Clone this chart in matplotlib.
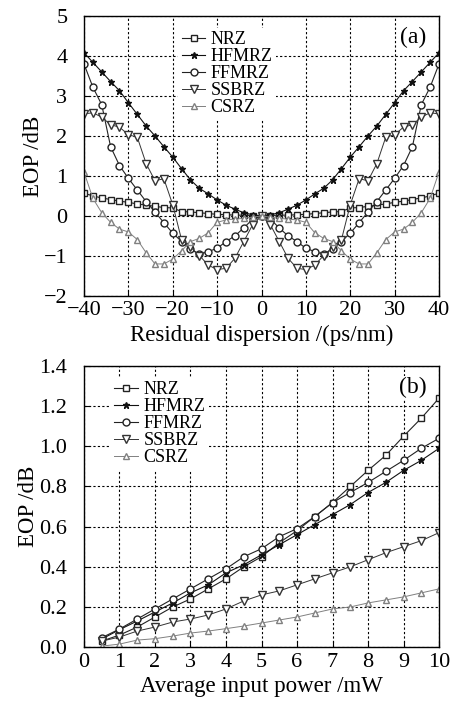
import matplotlib.pyplot as plt
import numpy as np

plt.rcParams['font.family'] = 'Liberation Serif'
plt.rcParams['axes.unicode_minus'] = True

# (a) EOP vs residual dispersion, values for 0..40 ps/nm (curves are symmetric)
disp_half = np.arange(0, 42, 2)
nrz_a = [0, 0.01, 0.02, 0.02, 0.03, 0.04, 0.06, 0.08, 0.10, 0.11, 0.20,
         0.21, 0.24, 0.27, 0.30, 0.34, 0.37, 0.41, 0.45, 0.50, 0.57]
hfmrz_a = [0, 0.03, 0.08, 0.17, 0.27, 0.40, 0.55, 0.69, 0.90, 1.18, 1.47,
           1.73, 2.00, 2.25, 2.54, 2.83, 3.13, 3.36, 3.60, 3.84, 4.08]
ffmrz_a = [0, -0.08, -0.30, -0.50, -0.64, -0.81, -0.89, -0.96, -0.83, -0.64, -0.43,
           -0.17, 0.10, 0.36, 0.65, 0.94, 1.26, 1.73, 2.78, 3.22, 3.80]
ssbrz_a = [0, -0.22, -0.64, -1.06, -1.31, -1.34, -1.23, -0.99, -0.78, -0.60, 0.28,
           0.93, 0.88, 1.31, 1.97, 2.03, 2.22, 2.28, 2.47, 2.58, 2.55]
csrz_a = [0, -0.03, -0.06, -0.08, -0.10, -0.16, -0.42, -0.56, -0.64, -0.87, -1.08,
          -1.20, -1.20, -0.92, -0.59, -0.40, -0.33, -0.16, 0.08, 0.44, 1.10]

# (b) EOP vs average input power
power = np.arange(0.5, 10.5, 0.5)
nrz_b = [0.03, 0.06, 0.10, 0.15, 0.20, 0.24, 0.29, 0.34, 0.40, 0.45,
         0.52, 0.58, 0.65, 0.72, 0.80, 0.88, 0.955, 1.05, 1.14, 1.24]
hfmrz_b = [0.04, 0.087, 0.13, 0.175, 0.22, 0.27, 0.31, 0.37, 0.41, 0.46,
           0.51, 0.56, 0.61, 0.66, 0.71, 0.77, 0.82, 0.88, 0.93, 0.99]
ffmrz_b = [0.047, 0.09, 0.14, 0.19, 0.24, 0.29, 0.34, 0.39, 0.45, 0.49,
           0.55, 0.59, 0.65, 0.72, 0.77, 0.82, 0.875, 0.93, 0.99, 1.04]
ssbrz_b = [0.03, 0.05, 0.08, 0.10, 0.125, 0.14, 0.16, 0.19, 0.23, 0.26,
           0.28, 0.31, 0.34, 0.37, 0.40, 0.435, 0.47, 0.50, 0.53, 0.57]
csrz_b = [0.005, 0.015, 0.035, 0.042, 0.055, 0.07, 0.08, 0.092, 0.105, 0.12,
          0.135, 0.15, 0.17, 0.19, 0.20, 0.22, 0.235, 0.25, 0.27, 0.29]

labels = ['NRZ', 'HFMRZ', 'FFMRZ', 'SSBRZ', 'CSRZ']


def mirror(vals):
    v = np.asarray(vals)
    return np.concatenate([v[:0:-1], v])


disp = np.concatenate([-disp_half[:0:-1], disp_half])

styles = [
    dict(marker='s', color='#222222', mfc='white', ms=5, lw=0.8),
    dict(marker='*', color='#111111', mfc='#111111', ms=5, lw=0.8),
    dict(marker='o', color='#222222', mfc='white', ms=5, lw=0.8),
    dict(marker='v', color='#333333', mfc='white', ms=5.5, lw=0.7),
    dict(marker='^', color='#808080', mfc='white', ms=5, lw=0.7),
]

fig = plt.figure(figsize=(4.54, 7.08), dpi=100)
ax1 = fig.add_axes([0.185, 0.582, 0.782, 0.3955])
ax2 = fig.add_axes([0.185, 0.086, 0.782, 0.397])


def style_axes(ax):
    ax.grid(True, color='black', linestyle=(0, (2, 2)), linewidth=0.8)
    ax.tick_params(direction='in', length=4, labelsize=16, width=0.8)
    ax.tick_params(axis='y', pad=12)
    ax.tick_params(axis='x', pad=4)
    for s in ax.spines.values():
        s.set_linewidth(1.0)


data_a = [nrz_a, hfmrz_a, ffmrz_a, ssbrz_a, csrz_a]
for vals, lab, st in zip(data_a, labels, styles):
    ax1.plot(disp, mirror(vals), label=lab, **st)
ax1.set_xlim(-40, 40)
ax1.set_ylim(-2, 5)
ax1.set_xticks(range(-40, 41, 10))
ax1.set_yticks(range(-2, 6))
style_axes(ax1)
ax1.set_xlabel('Residual dispersion /(ps/nm)', fontsize=16.5, labelpad=3)
ax1.set_ylabel('EOP /dB', fontsize=16.5, labelpad=0)
ax1.legend(loc='upper left', bbox_to_anchor=(0.24, 0.99), fontsize=13,
           frameon=True, edgecolor='none', fancybox=False, framealpha=1,
           handlelength=1.3, handletextpad=0.3, labelspacing=0.0,
           borderpad=0.2)
ax1.text(0.965, 0.96, '(a)', transform=ax1.transAxes, fontsize=17,
         ha='right', va='top', bbox=dict(facecolor='white', edgecolor='none', pad=1))

data_b = [nrz_b, hfmrz_b, ffmrz_b, ssbrz_b, csrz_b]
for vals, lab, st in zip(data_b, labels, styles):
    ax2.plot(power, vals, label=lab, **st)
ax2.set_xlim(0, 10)
ax2.set_ylim(0, 1.4)
ax2.set_xticks(range(0, 11))
ax2.set_yticks(np.arange(0, 1.41, 0.2))
ax2.set_yticklabels([f'{v:.1f}' for v in np.arange(0, 1.41, 0.2)])
style_axes(ax2)
ax2.set_xlabel('Average input power /mW', fontsize=16.5, labelpad=3)
ax2.set_ylabel('EOP /dB', fontsize=16.5, labelpad=0)
ax2.legend(loc='upper left', bbox_to_anchor=(0.05, 0.99), fontsize=13,
           frameon=True, edgecolor='none', fancybox=False, framealpha=1,
           handlelength=1.3, handletextpad=0.3, labelspacing=0.0,
           borderpad=0.2)
ax2.text(0.965, 0.96, '(b)', transform=ax2.transAxes, fontsize=17,
         ha='right', va='top', bbox=dict(facecolor='white', edgecolor='none', pad=1))

fig.savefig('out.png', dpi=100, facecolor='white')
